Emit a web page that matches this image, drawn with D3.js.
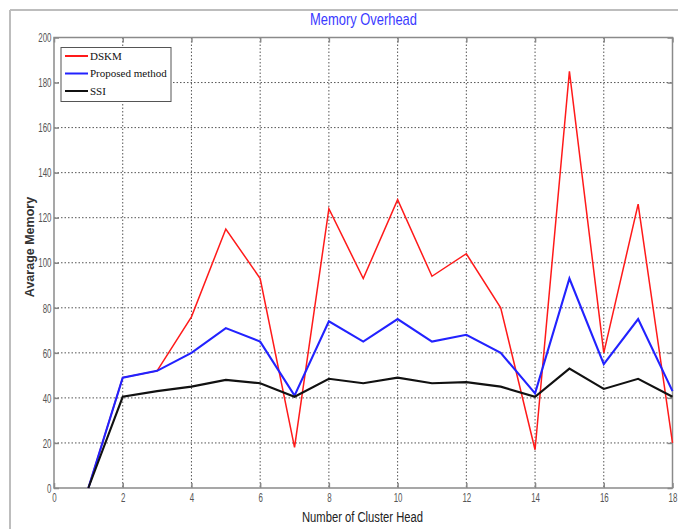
<!DOCTYPE html>
<html>
<head>
<meta charset="utf-8">
<script src="https://cdn.jsdelivr.net/npm/d3@7"></script>
<style>
  html, body { margin: 0; padding: 0; background: #fff; }
  svg { display: block; }
</style>
</head>
<body>
<svg id="chart" width="678" height="529"></svg>
<script>
const clusterHeads = [1, 2, 3, 4, 5, 6, 7, 8, 9, 10, 11, 12, 13, 14, 15, 16, 17, 18];
const dskm     = [0, 49, 52, 76, 115, 93, 18, 124, 93, 128, 94, 104, 80, 17, 185, 60, 126, 20];
const proposed = [0, 49, 52, 60, 71, 65, 41, 74, 65, 75, 65, 68, 60, 42, 93, 55, 75, 43];
const ssi      = [0, 40.5, 43, 45, 48, 46.5, 40.5, 48.5, 46.5, 49, 46.5, 47, 45, 40.5, 53, 44, 48.5, 40.5];
const seriesNames = ["DSKM", "Proposed method", "SSI"];
const seriesColors = ["#ff1a1a", "#2222ff", "#111111"];
const xTicks = [0, 2, 4, 6, 8, 10, 12, 14, 16, 18];
const yTicks = [0, 20, 40, 60, 80, 100, 120, 140, 160, 180, 200];

const svg = d3.select("#chart");
const L = 54, R = 672.5, T = 37.5, B = 488;

// outer figure frame
svg.append("line").attr("x1", 10).attr("y1", 10).attr("x2", 678).attr("y2", 10)
  .attr("stroke", "#bdbdbd").attr("stroke-width", 2);
svg.append("line").attr("x1", 10).attr("y1", 10).attr("x2", 10).attr("y2", 529)
  .attr("stroke", "#bdbdbd").attr("stroke-width", 2);

const x = d3.scaleLinear().domain([0, 18]).range([L, R]);
const y = d3.scaleLinear().domain([0, 200]).range([B, T]);

// grid
const grid = svg.append("g");
grid.selectAll(".gx").data(xTicks.slice(1, -1)).enter().append("line")
  .attr("x1", d => x(d)).attr("x2", d => x(d)).attr("y1", T).attr("y2", B)
  .attr("stroke", "#555").attr("stroke-width", 1).attr("stroke-dasharray", "1.5,2");
grid.selectAll(".gy").data(yTicks.slice(1, -1)).enter().append("line")
  .attr("x1", L).attr("x2", R).attr("y1", d => y(d)).attr("y2", d => y(d))
  .attr("stroke", "#555").attr("stroke-width", 1).attr("stroke-dasharray", "1.5,2");

// axes
const tickFont = "Liberation Sans, Arial, sans-serif";
const sx = 0.66;
const xAxis = svg.append("g").attr("transform", `translate(0,${B})`)
  .call(d3.axisBottom(x).tickValues(xTicks).tickSize(-5).tickPadding(0).tickFormat(d3.format("d")));
xAxis.select(".domain").remove();
xAxis.selectAll("line").attr("stroke", "#888").attr("stroke-width", 1.5);
xAxis.selectAll("text").attr("y", 14).attr("dy", 0)
  .attr("font-family", tickFont).attr("font-size", 12).attr("fill", "#555")
  .attr("transform", `scale(${sx},1)`);

const yAxis = svg.append("g").attr("transform", `translate(${L},0)`)
  .call(d3.axisLeft(y).tickValues(yTicks).tickSize(-5).tickPadding(0).tickFormat(d3.format("d")));
yAxis.select(".domain").remove();
yAxis.selectAll("line").attr("stroke", "#888").attr("stroke-width", 1.5);
yAxis.selectAll("text").attr("x", -2.5 / sx).attr("dy", "0.35em")
  .attr("font-family", tickFont).attr("font-size", 12).attr("fill", "#555")
  .attr("transform", `scale(${sx},1)`);

// top / right ticks
const xTop = svg.append("g").attr("transform", `translate(0,${T})`)
  .call(d3.axisTop(x).tickValues(xTicks).tickSize(-5).tickFormat(""));
xTop.select(".domain").remove();
xTop.selectAll("line").attr("stroke", "#888").attr("stroke-width", 1.5);
const yRight = svg.append("g").attr("transform", `translate(${R},0)`)
  .call(d3.axisRight(y).tickValues(yTicks).tickSize(-5).tickFormat(""));
yRight.select(".domain").remove();
yRight.selectAll("line").attr("stroke", "#888").attr("stroke-width", 1.5);

// plot box
svg.append("rect").attr("x", L).attr("y", T).attr("width", R - L).attr("height", B - T)
  .attr("fill", "none").attr("stroke", "#8a8a8a").attr("stroke-width", 1.5);

// lines
const line = d3.line().x((d, i) => x(clusterHeads[i])).y(d => y(d));
const allSeries = [dskm, proposed, ssi];
const widths = [1.5, 2.1, 2.1];
allSeries.forEach((s, k) => {
  svg.append("path").datum(s).attr("d", line)
    .attr("fill", "none").attr("stroke", seriesColors[k]).attr("stroke-width", widths[k])
    .attr("stroke-linejoin", "miter");
});

// legend
const lg = svg.append("g");
lg.append("rect").attr("x", 61).attr("y", 47.5).attr("width", 110).attr("height", 54)
  .attr("fill", "#fff").attr("stroke", "#555").attr("stroke-width", 1);
const rowsY = [56, 73.5, 91];
seriesNames.forEach((n, k) => {
  lg.append("line").attr("x1", 65).attr("x2", 88).attr("y1", rowsY[k]).attr("y2", rowsY[k])
    .attr("stroke", seriesColors[k]).attr("stroke-width", 2);
  lg.append("text").attr("x", 90).attr("y", rowsY[k]).attr("dy", "0.35em")
    .attr("font-family", "Liberation Serif, Times New Roman, serif").attr("font-size", 11)
    .attr("fill", "#111").text(n);
});

// title and labels
svg.append("text").attr("x", 363.5).attr("y", 25).attr("text-anchor", "middle")
  .attr("font-family", "Liberation Sans, Arial, sans-serif").attr("font-size", 17)
  .attr("fill", "#3a3aff").attr("textLength", 107).attr("lengthAdjust", "spacingAndGlyphs")
  .text("Memory Overhead");
svg.append("text").attr("x", 362.5).attr("y", 522).attr("text-anchor", "middle")
  .attr("font-family", "Liberation Sans, Arial, sans-serif").attr("font-size", 14)
  .attr("fill", "#222").attr("textLength", 121).attr("lengthAdjust", "spacingAndGlyphs")
  .text("Number of Cluster Head");
svg.append("text").attr("transform", "translate(34,247) rotate(-90)").attr("text-anchor", "middle")
  .attr("font-family", "Liberation Sans, Arial, sans-serif").attr("font-size", 12.5)
  .attr("font-weight", "bold").attr("fill", "#333")
  .text("Avarage Memory");
</script>
</body>
</html>
